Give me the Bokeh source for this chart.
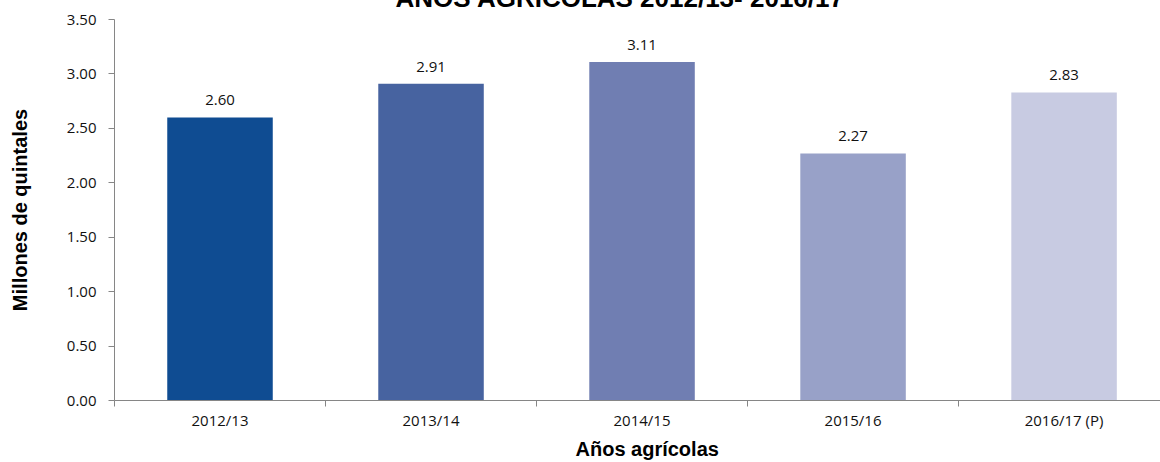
from bokeh.plotting import figure
from bokeh.models import Range1d, FixedTicker, NumeralTickFormatter, Title, ColumnDataSource
from bokeh.core.properties import value
from bokeh.embed import file_html
from bokeh.resources import INLINE

categories = ["2012/13", "2013/14", "2014/15", "2015/16", "2016/17 (P)"]
values = [2.60, 2.91, 3.11, 2.27, 2.83]
value_labels = ["2.60", "2.91", "3.11", "2.27", "2.83"]
colors = ["#0F4C92", "#4763A0", "#707EB2", "#98A1C8", "#C8CBE2"]
y_ticks = [0, 0.5, 1.0, 1.5, 2.0, 2.5, 3.0, 3.5]
title_text = "AÑOS AGRÍCOLAS 2012/13- 2016/17"
x_title = "Años agrícolas"
y_title = "Millones de quintales"

n = len(categories)
centers = [i + 0.5 for i in range(n)]
bounds = list(range(n + 1))

src = ColumnDataSource(dict(x=centers, top=values, color=colors, lab=value_labels))

p = figure(width=1160, height=502,
           x_range=Range1d(0, 4.957), y_range=Range1d(0, 3.5),
           output_backend="svg", toolbar_location=None,
           min_border_left=114, min_border_right=0,
           min_border_top=59, min_border_bottom=62)
p.styles = {"margin-top": "-40px", "margin-bottom": "-8px"}
p.outline_line_color = None
p.xgrid.visible = False
p.ygrid.visible = False
p.background_fill_color = "white"
p.border_fill_color = "white"

p.vbar(x="x", top="top", bottom=0, width=0.5, fill_color="color",
       line_color=None, source=src)
p.text(x="x", y="top", text="lab", source=src, y_offset=-17,
       text_align="center", text_baseline="alphabetic",
       text_font=value("Open Sans"), text_font_size="15px", text_color="#111111")

axis_color = "#868686"
# y axis
ya = p.yaxis[0]
ya.ticker = FixedTicker(ticks=y_ticks, minor_ticks=[])
ya.formatter = NumeralTickFormatter(format="0.00")
ya.axis_line_color = axis_color
ya.major_tick_line_color = axis_color
ya.major_tick_out = 6
ya.major_tick_in = 0
ya.minor_tick_line_color = None
ya.major_label_standoff = 12
ya.major_label_text_font = "Open Sans"
ya.major_label_text_font_size = "15px"
ya.major_label_text_color = "#111111"
ya.axis_label = y_title
ya.axis_label_text_font = "Liberation Sans"
ya.axis_label_text_font_style = "bold"
ya.axis_label_text_font_size = "20px"
ya.axis_label_text_color = "#000000"
ya.axis_label_standoff = 33

# x axis
xa = p.xaxis[0]
xa.ticker = FixedTicker(ticks=centers, minor_ticks=bounds)
xa.major_label_overrides = {c: lab for c, lab in zip(centers, categories)}
xa.axis_line_color = axis_color
xa.major_tick_line_color = None
xa.major_tick_out = 0
xa.major_tick_in = 0
xa.minor_tick_line_color = axis_color
xa.minor_tick_out = 6
xa.minor_tick_in = 0
xa.major_label_standoff = 3
xa.major_label_text_font = "Open Sans"
xa.major_label_text_font_size = "15px"
xa.major_label_text_color = "#111111"

main_title = Title(text=title_text, align="left", offset=281, standoff=14,
                   text_font="Liberation Sans", text_font_style="bold",
                   text_font_size="26px", text_color="#000000")
p.add_layout(main_title, "above")

x_label = Title(text=x_title, align="left", offset=461, standoff=6,
                text_font="Liberation Sans", text_font_style="bold",
                text_font_size="20px", text_color="#000000")
p.add_layout(x_label, "below")

open("out.html", "w").write(file_html(p, INLINE))
